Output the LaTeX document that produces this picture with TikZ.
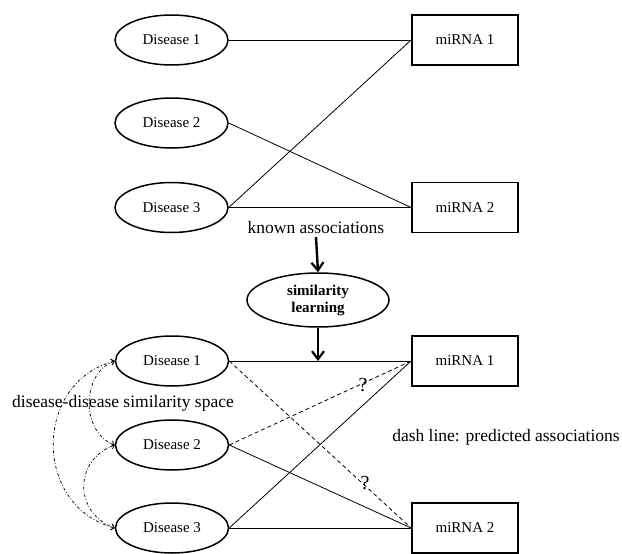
\documentclass[tikz,border=0pt]{standalone}
\usepackage{fontspec}
\setmainfont{Liberation Serif}
\usetikzlibrary{shapes.geometric,arrows.meta}
\begin{document}
\begin{tikzpicture}[x=1pt,y=-1pt,
  dis/.style={draw,ellipse,line width=1.5pt,minimum width=113pt,minimum height=50pt,inner sep=0pt,font=\fontsize{15}{17}\selectfont},
  mir/.style={draw,rectangle,line width=1.8pt,minimum width=106pt,minimum height=50pt,inner sep=0pt,font=\fontsize{15}{17}\selectfont},
  simnode/.style={draw,ellipse,line width=1.5pt,minimum width=142pt,minimum height=54pt,inner sep=0pt,align=center,font=\fontsize{15}{17}\selectfont\bfseries},
  lbl/.style={inner sep=0pt,font=\fontsize{17.5}{20}\selectfont},
  qmark/.style={inner sep=0pt,font=\fontsize{20}{22}\selectfont},
  assoc/.style={line width=0.8pt},
  pred/.style={line width=0.8pt,dash pattern=on 4pt off 3pt},
  bigarrow/.style={line width=2.4pt,-{Straight Barb[length=8pt,width=12pt,line width=2.2pt]}},
  simcurve/.style={line width=0.7pt,dash pattern=on 3pt off 2pt on 0.8pt off 2pt,
     {Straight Barb[length=3pt,width=6pt,line width=0.7pt]}-{Straight Barb[length=3pt,width=6pt,line width=0.7pt]}}
]
\useasboundingbox (0,0) rectangle (622,554);
% top part
\node[dis] (d1) at (171.5,40) {Disease 1};
\node[dis] (d2) at (171.5,123) {Disease 2};
\node[dis] (d3) at (171.5,207.5) {Disease 3};
\node[mir] (m1) at (465,40) {miRNA 1};
\node[mir] (m2) at (465,207.5) {miRNA 2};
\draw[assoc] (d1.east) -- (m1.west);
\draw[assoc] (d2.east) -- (m2.west);
\draw[assoc] (d3.east) -- (m1.west);
\draw[assoc] (d3.east) -- (m2.west);
\node[lbl] (known) at (316,228) {known associations};
% similarity learning
\node[simnode] (sim) at (318,300) {similarity\\learning};
\draw[bigarrow] (known.south |- 0,237) -- (sim.north);
% bottom part
\node[dis] (D1) at (172,361) {Disease 1};
\node[dis] (D2) at (172,445) {Disease 2};
\node[dis] (D3) at (172,528) {Disease 3};
\node[mir] (M1) at (465,361) {miRNA 1};
\node[mir] (M2) at (465,528) {miRNA 2};
\draw[assoc] (D1.east) -- (M1.west);
\draw[assoc] (D2.east) -- (M2.west);
\draw[assoc] (D3.east) -- (M1.west);
\draw[assoc] (D3.east) -- (M2.west);
\draw[pred] (D1.east) -- (M2.west);
\draw[pred] (D2.east) -- (M1.west);
\coordinate (hit) at (sim.south |- D1.east);
\draw[bigarrow] (sim.south) -- (hit);
\node[qmark] (q1) at (363,385) {?};
\node[qmark] (q2) at (365,483) {?};
\node[lbl] (simspace) at (123,403) {disease-disease similarity space};
\node[lbl] (dashlbl) at (506,437) {dash line: predicted associations};
% similarity curves
\draw[simcurve] (D1.west) to[out=195,in=165,looseness=1.3] (D3.west);
\draw[simcurve] (D1.west) to[out=200,in=160,looseness=1.1] (D2.west);
\draw[simcurve] (D2.west) to[out=200,in=160,looseness=1.35] (D3.west);
\end{tikzpicture}
\end{document}
